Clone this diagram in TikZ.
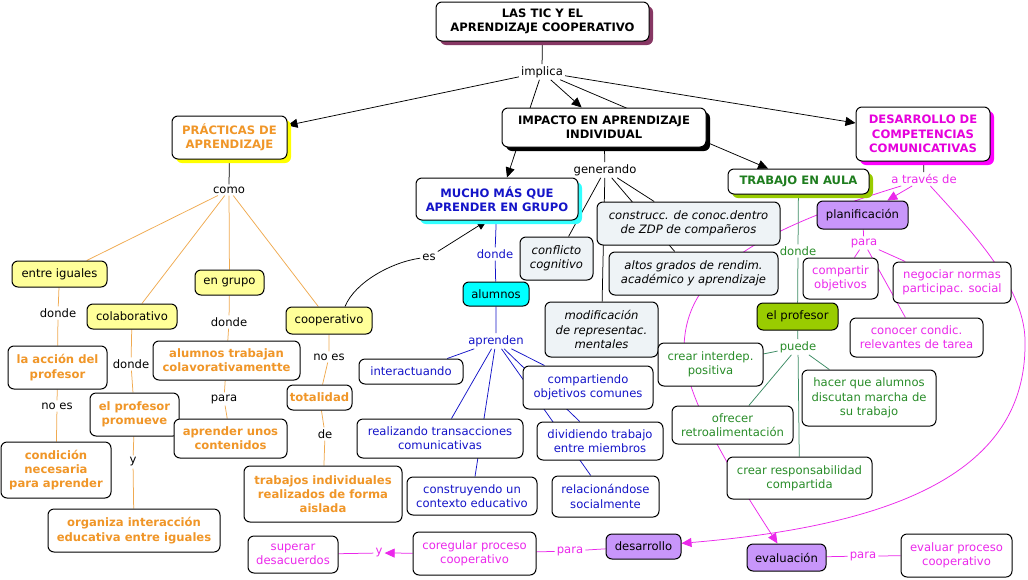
\documentclass[tikz,border=0pt]{standalone}
\usepackage{fontspec}
\setmainfont{DejaVu Sans}
\usetikzlibrary{arrows.meta,shadows}
\pgfdeclarelayer{background}
\pgfsetlayers{background,main}
\newcommand\fs{\fontsize{11.6}{14.3}\selectfont}
\definecolor{cOr}{RGB}{240,150,40}
\definecolor{cOrL}{RGB}{240,170,80}
\definecolor{cYel}{RGB}{255,255,153}
\definecolor{cYelS}{RGB}{255,255,0}
\definecolor{cTic}{RGB}{135,55,100}
\definecolor{cMag}{RGB}{230,0,220}
\definecolor{cMagL}{RGB}{235,40,235}
\definecolor{cMagS}{RGB}{255,0,255}
\definecolor{cBlue}{RGB}{20,20,200}
\definecolor{cCyan}{RGB}{0,255,255}
\definecolor{cCyanS}{RGB}{50,255,255}
\definecolor{cGreen}{RGB}{30,125,30}
\definecolor{cGreenT}{RGB}{40,140,40}
\definecolor{cGreenL}{RGB}{60,140,100}
\definecolor{cLime}{RGB}{153,204,0}
\definecolor{cLav}{RGB}{200,150,250}
\definecolor{cGray}{RGB}{238,243,246}
\tikzset{
  box/.style={draw=black, line width=1pt, rounded corners=6pt, fill=white, align=center, inner sep=1pt, font=\fs},
  bbox/.style={box, font=\fs\bfseries},
  ybox/.style={box, fill=cYel},
  gbox/.style={box, fill=cGray, font=\fs\itshape},
  lbox/.style={box, fill=cLav},
  lab/.style={inner sep=2pt, font=\fs},
  ln/.style={line width=0.75pt},
  arr/.style={-{Triangle[length=10pt,width=9pt]}},
  shd/.style={drop shadow={shadow xshift=4pt,shadow yshift=-4pt,fill=#1,opacity=1}},
}
\begin{document}
\begin{tikzpicture}[x=1pt,y=-1pt]
\useasboundingbox (0,0) rectangle (1028,579);
\begin{pgfonlayer}{background}
\fill[white] (0,0) rectangle (1028,579);
\end{pgfonlayer}

% ---- concepts ----
\node[bbox, shd=cTic, minimum width=213pt, minimum height=39pt] (tic) at (542.5,21.5) {LAS TIC Y EL\\APRENDIZAJE COOPERATIVO};
\node[lab] (implica) at (542,72) {implica};
\node[bbox, shd=cYelS, text=cOr, minimum width=115pt, minimum height=43pt] (prac) at (229.5,137.5) {PRÁCTICAS DE\\APRENDIZAJE};
\node[bbox, shd=black, minimum width=204pt, minimum height=39pt] (impacto) at (604,127.5) {IMPACTO EN APRENDIZAJE\\INDIVIDUAL};
\node[bbox, shd=cMagS, text=cMag, minimum width=134pt, minimum height=54pt] (desar) at (923,134) {DESARROLLO DE\\COMPETENCIAS\\COMUNICATIVAS};
\node[bbox, shd=cCyanS, text=cBlue, minimum width=162pt, minimum height=42pt] (mucho) at (497,199) {MUCHO MÁS QUE\\APRENDER EN GRUPO};
\node[bbox, shd=cLime, text=cGreen, minimum width=141pt, minimum height=25pt] (trabajo) at (798.5,181.5) {TRABAJO EN AULA};

\node[lab] (generando) at (605,170) {generando};
\node[lab] (como) at (229,190) {como};

\node[gbox, minimum width=73pt, minimum height=43pt] (conflicto) at (556.5,258.5) {conflicto\\cognitivo};
\node[gbox, minimum width=183pt, minimum height=43pt] (construcc) at (688.5,223.5) {construcc. de conoc.dentro\\de ZDP de compañeros};
\node[gbox, minimum width=169pt, minimum height=43pt] (altos) at (693.5,273.5) {altos grados de rendim.\\académico y aprendizaje};
\node[gbox, minimum width=113pt, minimum height=55pt] (modif) at (601.5,329.5) {modificación\\de representac.\\mentales};

% ---- left (orange) ----
\node[ybox, minimum width=95pt, minimum height=26pt] (entre) at (59.5,274) {entre iguales};
\node[ybox, minimum width=90pt, minimum height=25pt] (colab) at (132,316.5) {colaborativo};
\node[ybox, minimum width=69pt, minimum height=25pt] (engrupo) at (229.5,282.5) {en grupo};
\node[ybox, minimum width=86pt, minimum height=27pt] (coop) at (329,320.5) {cooperativo};
\node[lab] (donde1) at (58,313) {donde};
\node[lab] (donde2) at (131,364) {donde};
\node[lab] (donde3) at (229,322) {donde};
\node[bbox, text=cOr, minimum width=99pt, minimum height=43pt] (accion) at (57.5,367.5) {la acción del\\profesor};
\node[lab] (noes1) at (57,406) {no es};
\node[bbox, text=cOr, minimum width=110pt, minimum height=56pt] (condicion) at (56,470) {condición\\necesaria\\para aprender};
\node[bbox, text=cOr, minimum width=89pt, minimum height=43pt] (profprom) at (134.5,414.5) {el profesor\\promueve};
\node[lab] (y1) at (133,462) {y};
\node[bbox, text=cOr, minimum width=172pt, minimum height=43pt] (organiza) at (134,530.5) {organiza interacción\\educativa entre iguales};
\node[bbox, text=cOr, minimum width=147pt, minimum height=39pt] (alumtrab) at (226.5,360.5) {alumnos trabajan\\colavorativamentte};
\node[lab] (para1) at (224,399) {para};
\node[bbox, text=cOr, minimum width=113pt, minimum height=39pt] (aprender) at (230.5,438.5) {aprender unos\\contenidos};
\node[lab] (noes2) at (329,357) {no es};
\node[bbox, text=cOr, minimum width=65pt, minimum height=25pt] (totalidad) at (319.5,397.5) {totalidad};
\node[lab] (de) at (325,434) {de};
\node[bbox, text=cOr, minimum width=158pt, minimum height=56pt] (trabajos) at (323,494) {trabajos individuales\\realizados de forma\\aislada};
\node[lab] (es) at (429,257) {es};

% ---- blue ----
\node[lab, text=cBlue] (donde4) at (495,254) {donde};
\node[box, fill=cCyan, minimum width=66pt, minimum height=24pt] (alumnos) at (496,294) {alumnos};
\node[lab, text=cBlue] (aprenden) at (496,341) {aprenden};
\node[box, text=cBlue, minimum width=104pt, minimum height=25pt] (interact) at (411,371.5) {interactuando};
\node[box, text=cBlue, minimum width=166pt, minimum height=39pt] (realiz) at (440,438.5) {realizando transacciones\\comunicativas};
\node[box, text=cBlue, minimum width=130pt, minimum height=38pt] (constr) at (472,496) {construyendo un\\contexto educativo};
\node[box, text=cBlue, minimum width=130pt, minimum height=43pt] (compart) at (588,387.5) {compartiendo\\objetivos comunes};
\node[box, text=cBlue, minimum width=126pt, minimum height=38pt] (divid) at (600,441) {dividiendo trabajo\\entre miembros};
\node[box, text=cBlue, minimum width=107pt, minimum height=41pt] (relac) at (605.5,496.5) {relacionándose\\socialmente};

% ---- right (green / magenta) ----
\node[lbox, minimum width=91pt, minimum height=28pt] (planif) at (862.5,215) {planificación};
\node[lab, text=cMagL] (atraves) at (924,179) {a través de};
\node[lab, text=cGreenT] (donde5) at (798,251) {donde};
\node[lab, text=cMagL] (para2) at (864,243) {para};
\node[box, text=cMagL, minimum width=75pt, minimum height=41pt] (compobj) at (840.5,278.5) {compartir\\objetivos};
\node[box, text=cMagL, minimum width=118pt, minimum height=41pt] (negociar) at (952,282.5) {negociar normas\\participac. social};
\node[box, fill=cLime, minimum width=81pt, minimum height=27pt] (elprof) at (797.5,316.5) {el profesor};
\node[box, text=cMagL, minimum width=133pt, minimum height=39pt] (conocer) at (916.5,337.5) {conocer condic.\\relevantes de tarea};
\node[lab, text=cGreenT] (puede) at (798,347) {puede};
\node[box, text=cGreenT, minimum width=105pt, minimum height=43pt] (interdep) at (710.5,364.5) {crear interdep.\\positiva};
\node[box, text=cGreenT, minimum width=134pt, minimum height=56pt] (hacer) at (869,398) {hacer que alumnos\\discutan marcha de\\su trabajo};
\node[box, text=cGreenT, minimum width=121pt, minimum height=38pt] (ofrecer) at (732.5,425) {ofrecer\\retroalimentación};
\node[box, text=cGreenT, minimum width=145pt, minimum height=42pt] (resp) at (799.5,478) {crear responsabilidad\\compartida};

% ---- bottom (magenta) ----
\node[lbox, minimum width=75pt, minimum height=25pt] (desarrollo) at (643.5,546.5) {desarrollo};
\node[lbox, minimum width=79pt, minimum height=27pt] (evaluacion) at (786.5,557.5) {evaluación};
\node[lab, text=cMagL] (para3) at (863,556) {para};
\node[box, text=cMagL, minimum width=111pt, minimum height=43pt] (evaluar) at (956.5,555.5) {evaluar proceso\\cooperativo};
\node[lab, text=cMagL] (para4) at (570,551) {para};
\node[box, text=cMagL, minimum width=123pt, minimum height=43pt] (coreg) at (474.5,553.5) {coregular proceso\\cooperativo};
\node[lab, text=cMagL] (y2) at (379,553) {y};
\node[box, text=cMagL, minimum width=90pt, minimum height=37pt] (superar) at (293,554.5) {superar\\desacuerdos};

% ---- connectors ----
\begin{pgfonlayer}{background}
% black
\draw[ln] (tic) -- (implica);
\draw[ln,arr] (implica) -- (prac);
\draw[ln,arr] (implica) -- ([xshift=10pt]mucho.north);
\draw[ln,arr] (implica) -- (impacto);
\draw[ln,arr] (implica) -- (trabajo);
\draw[ln,arr] (implica) -- (desar);
\draw[ln] (prac) -- (como);
\draw[ln] (impacto) -- (generando);
\draw[ln] (desar) -- (atraves);
\draw[ln] ([xshift=16pt]coop.north) .. controls (355,282) and (392,262) .. (es);
\draw[ln,arr] (es) -- ([xshift=-10pt]mucho.south);
\draw[ln] (generando) -- (conflicto);
\draw[ln] (generando) -- (construcc);
\draw[ln] (generando) -- (altos);
\draw[ln] (generando) -- (modif);
% orange
\draw[ln,cOrL] (como) -- (entre);
\draw[ln,cOrL] (como) -- (colab);
\draw[ln,cOrL] (como) -- (engrupo);
\draw[ln,cOrL] (como) -- (coop);
\draw[ln,cOrL] (entre) -- (donde1) -- (accion) -- (noes1) -- (condicion);
\draw[ln,cOrL] (colab) -- (donde2) -- (profprom) -- (y1) -- (organiza);
\draw[ln,cOrL] (engrupo) -- (donde3) -- (alumtrab) -- (para1) -- (aprender);
\draw[ln,cOrL] (coop) -- (noes2) -- (totalidad) -- (de) -- (trabajos);
% blue
\draw[ln,cBlue] (mucho) -- (donde4) -- (alumnos) -- (aprenden);
\draw[ln,cBlue] (aprenden) -- (interact);
\draw[ln,cBlue] (aprenden) -- (realiz);
\draw[ln,cBlue] (aprenden) -- (constr);
\draw[ln,cBlue] (aprenden) -- (compart);
\draw[ln,cBlue] (aprenden) -- (divid);
\draw[ln,cBlue] (aprenden) -- (relac);
% green
\draw[ln,cGreenL] (trabajo) -- (donde5) -- (elprof) -- (puede);
\draw[ln,cGreenL] (puede) -- (interdep);
\draw[ln,cGreenL] (puede) -- (hacer);
\draw[ln,cGreenL] (puede) -- (ofrecer);
\draw[ln,cGreenL] (puede) -- (resp);
% magenta
\draw[ln,cMagL,arr] (atraves) -- (planif);
\draw[ln,cMagL,arr] (atraves) .. controls (740,235) and (684,280) .. (684,350)
   .. controls (684,395) and (730,470) .. (evaluacion);
\draw[ln,cMagL,arr] (atraves) .. controls (975,235) and (1027,290) .. (1025,345)
   .. controls (1025,470) and (900,525) .. (desarrollo);
\draw[ln,cMagL] (planif) -- (para2);
\draw[ln,cMagL] (para2) -- (compobj);
\draw[ln,cMagL] (para2) -- (negociar);
\draw[ln,cMagL] (para2) -- (conocer);
\draw[ln,cMagL] (desarrollo) -- (para4) -- (coreg);
\draw[ln,cMagL,arr] (coreg) -- (y2);
\draw[ln,cMagL] (y2) -- (superar);
\draw[ln,cMagL] (evaluacion) -- (para3) -- (evaluar);
\end{pgfonlayer}
\end{tikzpicture}
\end{document}
